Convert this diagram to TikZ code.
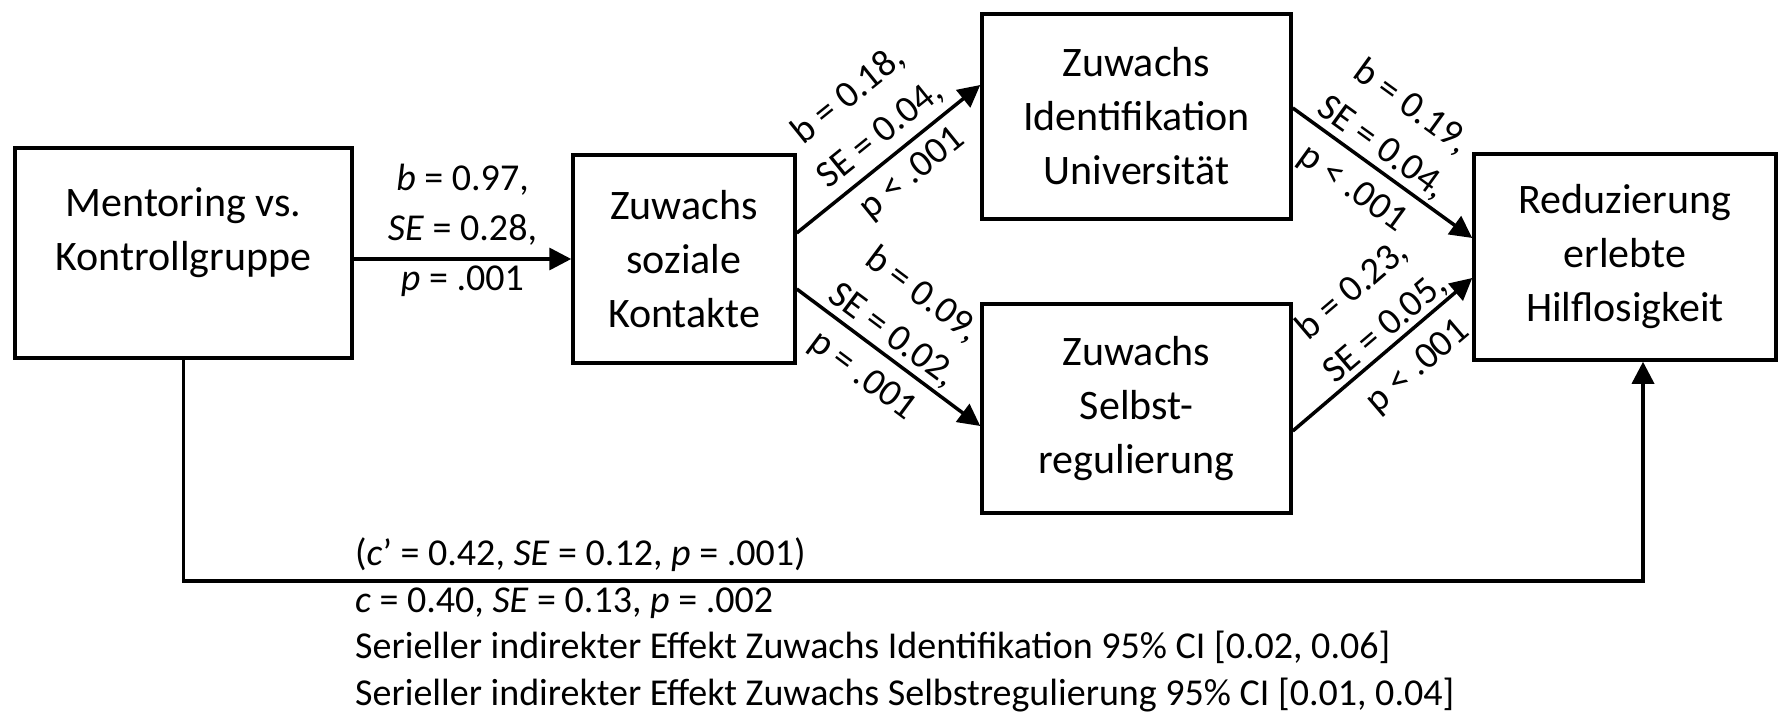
\documentclass[tikz,border=0pt]{standalone}
\usepackage{fontspec}
\setmainfont{Carlito}
\usetikzlibrary{arrows.meta,calc}
\begin{document}
\begin{tikzpicture}[x=1pt,y=1pt,
  box/.style={draw, line width=3.5pt, inner sep=0pt, align=center, font=\fontsize{42}{54}\selectfont},
  btext/.style={align=center, inner sep=0pt, font=\fontsize{42}{54}\selectfont},
  lbl/.style={align=center, inner sep=0pt, font=\fontsize{38}{50}\selectfont},
  arr/.style={line width=3.5pt, -{Triangle[length=22pt,width=22pt]}},
  note/.style={anchor=base west, inner sep=0pt, font=\fontsize{38}{47}\selectfont}]
\useasboundingbox[fill=white] (0,0) rectangle (1780,724);
% boxes
\node[box, minimum width=337pt, minimum height=210pt] (b1) at (183.5,471) {};
\node[btext] (b1t) at ([yshift=20pt]b1.center) {Mentoring vs.\\Kontrollgruppe};
\node[box, minimum width=222pt, minimum height=208pt] (b2) at (684,465) {Zuwachs\\soziale\\Kontakte};
\node[box, minimum width=309pt, minimum height=205pt] (b3) at (1136.5,607.5) {Zuwachs\\Identifikation\\Universität};
\node[box, minimum width=309pt, minimum height=209pt] (b4) at (1136.5,315.5) {Zuwachs\\Selbst-\\regulierung};
\node[box, minimum width=302pt, minimum height=206pt] (b5) at (1625,467) {Reduzierung\\erlebte\\Hilflosigkeit};
% connectors
\draw[arr] (b1.east |- b2.west) -- node[lbl, yshift=29pt] {\textit{b} = 0.97,\\\textit{SE} = 0.28,\\\textit{p} = .001} (b2.west);
\draw[arr] ([yshift=26pt]b2.east) -- node[lbl, sloped, yshift=24pt, xshift=9pt] {b = 0.18,\\SE = 0.04,\\p < .001} ([yshift=31.5pt]b3.west);
\draw[arr] ([yshift=-30pt]b2.east) -- node[lbl, sloped, yshift=20pt, xshift=-10pt] {b = 0.09,\\SE = 0.02,\\p = .001} ([yshift=-17.5pt]b4.west);
\draw[arr] ([yshift=8.5pt]b3.east) -- node[lbl, sloped, yshift=20pt, xshift=-15pt] {b = 0.19,\\SE = 0.04,\\p < .001} ([yshift=19pt]b5.west);
\draw[arr] ([yshift=-22.5pt]b4.east) -- node[lbl, sloped, yshift=18pt, xshift=19pt] {b = 0.23,\\SE = 0.05,\\p < .001} ([yshift=-21pt]b5.west);
\coordinate (br) at (1643,143);
\draw[arr] (b1.south) |- (br) -- (br |- b5.south);
% notes
\node[note] (n1) at (355,159) {(\textit{c}’ = 0.42, \textit{SE} = 0.12, \textit{p} = .001)};
\node[note] (n2) at (355,112) {\textit{c} = 0.40, \textit{SE} = 0.13, \textit{p} = .002};
\node[note] (n3) at (355,66) {Serieller indirekter Effekt Zuwachs Identifikation 95\% CI [0.02, 0.06]};
\node[note] (n4) at (355,19) {Serieller indirekter Effekt Zuwachs Selbstregulierung 95\% CI [0.01, 0.04]};
\end{tikzpicture}
\end{document}
